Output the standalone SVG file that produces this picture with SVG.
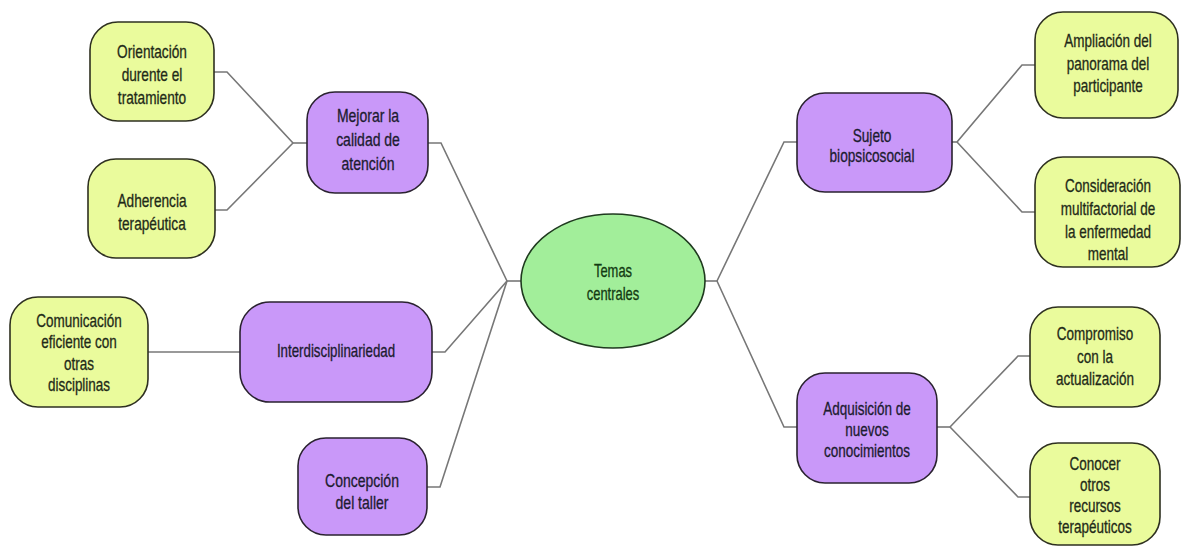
<svg xmlns="http://www.w3.org/2000/svg" width="1184" height="548" viewBox="0 0 1184 548">
<style>
.bg{fill:#ffffff}
.sub{fill:#C998F9;stroke:#2a2230;stroke-width:1.6}
.leaf{fill:#EAFB9C;stroke:#2e3020;stroke-width:1.6}
.root{fill:#A2EE9A;stroke:#1f3a1f;stroke-width:1.6}
.con{fill:none;stroke:#777777;stroke-width:1.6}
text{font-family:"Liberation Sans",Arial,sans-serif;font-size:17.5px;fill:#1c1c30;stroke:#1c1c30;stroke-width:0.3;text-anchor:middle}
.lt text{fill:#1f2a18;stroke:#1f2a18}
.rt text{fill:#123a12;stroke:#123a12}
</style>
<rect class="bg" width="1184" height="548"/>
<g id="connectors">
<polyline class="con" points="521,281 507,281"/>
<polyline class="con" points="507,281 441,143 428,143"/>
<polyline class="con" points="507,281 445,352 432,352"/>
<polyline class="con" points="507,281 440,487 427,487"/>
<polyline class="con" points="307,143 293,143"/>
<polyline class="con" points="293,143 227,72 214,72"/>
<polyline class="con" points="293,143 227,210 215,210"/>
<polyline class="con" points="148,352 240,352"/>
<polyline class="con" points="705,281 717,281"/>
<polyline class="con" points="717,281 784,142 797,142"/>
<polyline class="con" points="717,281 784,427 797,427"/>
<polyline class="con" points="952,142 957,142"/>
<polyline class="con" points="957,142 1022,65 1035,65"/>
<polyline class="con" points="957,142 1022,212 1035,212"/>
<polyline class="con" points="937,427 950,427"/>
<polyline class="con" points="950,427 1018,356 1030,356"/>
<polyline class="con" points="950,427 1018,497 1030,497"/>
</g>
<g id="root" class="rt">
<ellipse class="root" cx="613" cy="281" rx="92" ry="67"/>
<g transform="translate(613 0) scale(0.74 1)">
<text x="0" y="277">Temas</text>
<text x="0" y="300">centrales</text>
</g>
</g>
<g id="mejorar">
<rect class="sub" x="307" y="92" width="121" height="101" rx="28"/>
<g transform="translate(368 0) scale(0.8 1)">
<text x="0" y="122">Mejorar la</text>
<text x="0" y="146">calidad de</text>
<text x="0" y="170">atención</text>
</g>
</g>
<g id="orientacion" class="lt">
<rect class="leaf" x="90" y="22" width="124" height="99" rx="28"/>
<g transform="translate(152 0) scale(0.78 1)">
<text x="0" y="58">Orientación</text>
<text x="0" y="81">durente el</text>
<text x="0" y="104">tratamiento</text>
</g>
</g>
<g id="adherencia" class="lt">
<rect class="leaf" x="88" y="159" width="127" height="99" rx="28"/>
<g transform="translate(152 0) scale(0.78 1)">
<text x="0" y="207">Adherencia</text>
<text x="0" y="230">terapéutica</text>
</g>
</g>
<g id="interdisciplinariedad">
<rect class="sub" x="240" y="302" width="192" height="100" rx="30"/>
<g transform="translate(336 0) scale(0.76 1)">
<text x="0" y="357">Interdisciplinariedad</text>
</g>
</g>
<g id="comunicacion" class="lt">
<rect class="leaf" x="10" y="297" width="138" height="110" rx="28"/>
<g transform="translate(79 0) scale(0.77 1)">
<text x="0" y="327">Comunicación</text>
<text x="0" y="348">eficiente con</text>
<text x="0" y="370">otras</text>
<text x="0" y="391">disciplinas</text>
</g>
</g>
<g id="concepcion">
<rect class="sub" x="298" y="438" width="129" height="97" rx="28"/>
<g transform="translate(362 0) scale(0.8 1)">
<text x="0" y="487">Concepción</text>
<text x="0" y="509">del taller</text>
</g>
</g>
<g id="sujeto">
<rect class="sub" x="797" y="93" width="155" height="99" rx="28"/>
<g transform="translate(872 0) scale(0.78 1)">
<text x="0" y="142">Sujeto</text>
<text x="0" y="162">biopsicosocial</text>
</g>
</g>
<g id="ampliacion" class="lt">
<rect class="leaf" x="1035" y="12" width="143" height="106" rx="28"/>
<g transform="translate(1108 0) scale(0.77 1)">
<text x="0" y="47">Ampliación del</text>
<text x="0" y="70">panorama del</text>
<text x="0" y="92">participante</text>
</g>
</g>
<g id="consideracion" class="lt">
<rect class="leaf" x="1035" y="157" width="145" height="110" rx="28"/>
<g transform="translate(1108 0) scale(0.77 1)">
<text x="0" y="192">Consideración</text>
<text x="0" y="215">multifactorial de</text>
<text x="0" y="238">la enfermedad</text>
<text x="0" y="260">mental</text>
</g>
</g>
<g id="adquisicion">
<rect class="sub" x="797" y="373" width="140" height="110" rx="28"/>
<g transform="translate(867 0) scale(0.77 1)">
<text x="0" y="415">Adquisición de</text>
<text x="0" y="436">nuevos</text>
<text x="0" y="457">conocimientos</text>
</g>
</g>
<g id="compromiso" class="lt">
<rect class="leaf" x="1030" y="307" width="130" height="100" rx="28"/>
<g transform="translate(1095 0) scale(0.77 1)">
<text x="0" y="340">Compromiso</text>
<text x="0" y="363">con la</text>
<text x="0" y="385">actualización</text>
</g>
</g>
<g id="conocer" class="lt">
<rect class="leaf" x="1030" y="443" width="130" height="102" rx="28"/>
<g transform="translate(1095 0) scale(0.77 1)">
<text x="0" y="470">Conocer</text>
<text x="0" y="491">otros</text>
<text x="0" y="512">recursos</text>
<text x="0" y="533">terapéuticos</text>
</g>
</g>
</svg>
